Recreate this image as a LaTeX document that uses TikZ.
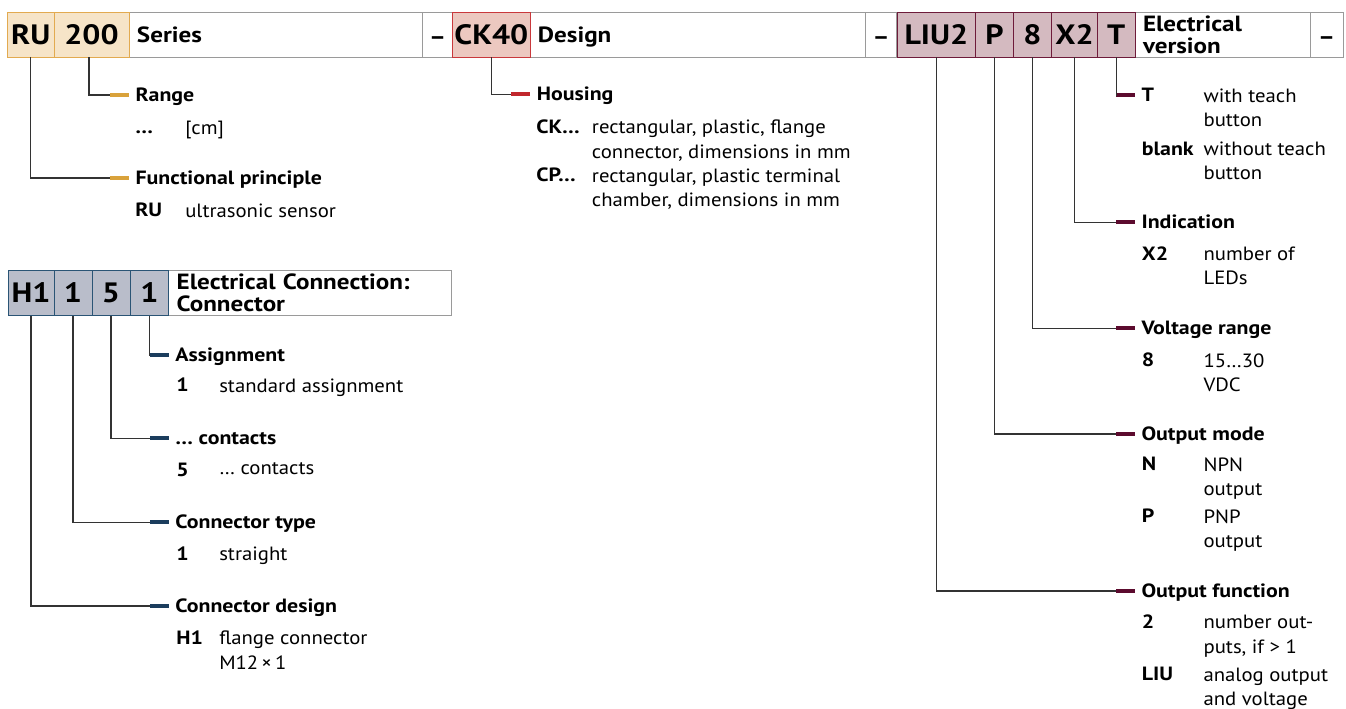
\documentclass[tikz,border=0pt]{standalone}
\usepackage{fontspec}
\setmainfont{PT Sans}[FakeStretch=1.08,BoldFeatures={FakeStretch=1.14}]
\usetikzlibrary{positioning}

\definecolor{rugold}{HTML}{D9A23B}
\definecolor{rufill}{HTML}{F6E4C8}
\definecolor{ruline}{HTML}{E2AA50}
\definecolor{ckred}{HTML}{C1272D}
\definecolor{ckfill}{HTML}{ECC8C0}
\definecolor{ckline}{HTML}{C9383C}
\definecolor{elmaroon}{HTML}{5C0B2E}
\definecolor{elfill}{HTML}{D4BAC0}
\definecolor{elline}{HTML}{6E1B3A}
\definecolor{cnnavy}{HTML}{1B3D5D}
\definecolor{cnfill}{HTML}{B9BDCA}
\definecolor{cnline}{HTML}{2A5475}
\definecolor{framegray}{HTML}{9A9A9A}
\definecolor{wiregray}{HTML}{333333}

\newcommand\lblfont{\fontsize{14.4}{18.4}\selectfont}

\begin{document}
\begin{tikzpicture}[x=0.75pt,y=-0.75pt,
	codebox/.style={draw,inner sep=0pt,minimum height=33.75pt,text height=15pt,text depth=0pt,font=\fontsize{21}{21}\selectfont\bfseries},
	namebox/.style={draw=framegray,fill=white,inner xsep=6pt,inner ysep=0pt,minimum height=33.75pt,align=left,font=\fontsize{16.5}{16.5}\selectfont\bfseries},
	dashbox/.style={draw=framegray,fill=white,inner sep=0pt,minimum height=33.75pt,text height=15pt,text depth=0pt,font=\fontsize{17}{17}\selectfont\bfseries},
	rubox/.style={codebox,fill=rufill,draw=ruline},
	ckbox/.style={codebox,fill=ckfill,draw=ckline},
	elbox/.style={codebox,fill=elfill,draw=elline},
	cnbox/.style={codebox,fill=cnfill,draw=cnline,minimum height=34.3pt},
	codebar/.style={fill=#1,inner sep=0pt,minimum width=14.25pt,minimum height=3pt},
	wire/.style={draw=wiregray,line width=0.8pt},
	head/.style={anchor=west,inner sep=0pt,text height=10pt,text depth=0pt,font=\lblfont\bfseries},
	key/.style={anchor=north west,inner sep=0pt,text height=10pt,text depth=0pt,font=\lblfont\bfseries},
	desc/.style={anchor=north west,inner sep=0pt,align=left,font=\lblfont}]
	\useasboundingbox (0,0) rectangle (1346,709);
	\clip (0,0) rectangle (1346,709);

	% type code bar
	\node[namebox,text width=208.3pt,text depth=0pt] (series) at (275.85,34.5) {Series};
	\node[dashbox,minimum width=22.5pt] (dasha) at (437.7,34.5) {--};
	\node[namebox,text width=239.8pt,text depth=0pt] (design) at (697.85,34.5) {Design};
	\node[dashbox,minimum width=23.25pt] (dashb) at (881.2,34.5) {--};
	\node[namebox,text width=119.25pt] (elver) at (1222.5,34.5) {Electrical\\version};
	\node[dashbox,minimum width=25pt] (dashc) at (1326.65,34.5) {--};
	\node[rubox,minimum width=35pt] (ru) at (30.65,34.5) {RU};
	\node[rubox,minimum width=56.25pt] (range) at (91.5,34.5) {200};
	\node[ckbox,minimum width=58pt] (ck) at (491.35,34.5) {CK40};
	\node[elbox,minimum width=59pt] (liu) at (936.35,34.5) {LIU2};
	\node[elbox,minimum width=28.2pt] (pnp) at (994.5,34.5) {P};
	\node[elbox,minimum width=28.8pt] (volt) at (1032.5,34.5) {8};
	\node[elbox,minimum width=34.2pt] (leds) at (1074.5,34.5) {X2};
	\node[elbox,minimum width=28.3pt] (teach) at (1116.15,34.5) {T};

	% connector code bar
	\node[namebox,text width=200.25pt] (contitle) at (310.2,292.85) {Electrical Connection:\\Connector};
	\node[cnbox,minimum width=34.5pt] (hone) at (31,292.85) {H1};
	\node[cnbox,minimum width=28.5pt] (ctype) at (73,292.85) {1};
	\node[cnbox,minimum width=28.5pt] (cpins) at (111,292.85) {5};
	\node[cnbox,minimum width=29pt] (cassign) at (149.35,292.85) {1};

	% series
	\node[codebar=rugold] (brange) at (119.5,95) {};
	\node[codebar=rugold] (bprinc) at (119.5,178) {};
	\draw[wire] ([xshift=-1.9pt]range.south) |- (brange.west);
	\draw[wire] (ru.south) |- (bprinc.west);
	\node[head] at ([xshift=4.5pt]brange.east) {Range};
	\node[key] at (135,120.3) {\ldots};
	\node[desc] at (185,120.3) {[cm]};
	\node[head] at ([xshift=4.5pt]bprinc.east) {Functional principle};
	\node[key] at (135,203.3) {RU};
	\node[desc] at (185,203.3) {ultrasonic sensor};

	% design
	\node[codebar=ckred] (bhous) at (520.85,94.3) {};
	\draw[wire] (ck.south) |- (bhous.west);
	\node[head] at ([xshift=4.5pt]bhous.east) {Housing};
	\node[key] at (536,120) {CK\ldots};
	\node[desc] at (591.7,120) {rectangular, plastic, flange\\connector, dimensions in mm};
	\node[key] at (536,168.3) {CP\ldots};
	\node[desc] at (591.7,168.3) {rectangular, plastic terminal\\chamber, dimensions in mm};

	% electrical version
	\node[codebar=elmaroon] (bteach) at (1125.5,95) {};
	\node[codebar=elmaroon] (bleds) at (1125.5,222.3) {};
	\node[codebar=elmaroon] (bvolt) at (1125.5,328.3) {};
	\node[codebar=elmaroon] (bpnp) at (1125.5,434) {};
	\node[codebar=elmaroon] (bliu) at (1125.5,591) {};
	\draw[wire] (teach.south) |- (bteach.west);
	\draw[wire] (leds.south) |- (bleds.west);
	\draw[wire] (volt.south) |- (bvolt.west);
	\draw[wire] (pnp.south) |- (bpnp.west);
	\draw[wire] (liu.south) |- (bliu.west);
	\node[head] at ([xshift=4.5pt]bteach.east) {T};
	\node[desc] at (1203.3,88.3) {with teach\\button};
	\node[key] at (1141.7,141.6) {blank};
	\node[desc] at (1203.3,141.6) {without teach\\button};
	\node[head] at ([xshift=4.5pt]bleds.east) {Indication};
	\node[key] at (1141.7,246.6) {X2};
	\node[desc] at (1203.3,246.6) {number of\\LEDs};
	\node[head] at ([xshift=4.5pt]bvolt.east) {Voltage range};
	\node[key] at (1141.7,353.3) {8};
	\node[desc] at (1203.3,353.3) {15\ldots30\\VDC};
	\node[head] at ([xshift=4.5pt]bpnp.east) {Output mode};
	\node[key] at (1141.7,457.3) {N};
	\node[desc] at (1203.3,457.3) {NPN\\output};
	\node[key] at (1141.7,509.3) {P};
	\node[desc] at (1203.3,509.3) {PNP\\output};
	\node[head] at ([xshift=4.5pt]bliu.east) {Output function};
	\node[key] at (1141.7,615) {2};
	\node[desc] at (1203.3,615) {number out-\\puts, if > 1};
	\node[key] at (1141.7,667.3) {LIU};
	\node[desc] at (1203.3,667.3) {analog output\\and voltage};

	% electrical connection
	\node[codebar=cnnavy] (bassign) at (159.35,355) {};
	\node[codebar=cnnavy] (bpins) at (159.35,438.3) {};
	\node[codebar=cnnavy] (btype) at (159.35,522.3) {};
	\node[codebar=cnnavy] (bdesign) at (159.35,606) {};
	\draw[wire] (cassign.south) |- (bassign.west);
	\draw[wire] (cpins.south) |- (bpins.west);
	\draw[wire] (ctype.south) |- (btype.west);
	\draw[wire] (hone.south) |- (bdesign.west);
	\node[head] at ([xshift=4.5pt]bassign.east) {Assignment};
	\node[key] at (176,378.3) {1};
	\node[desc] at (219,378.3) {standard assignment};
	\node[head] at ([xshift=4.5pt]bpins.east) {\ldots{} contacts};
	\node[key] at (176,462.6) {5};
	\node[desc] at (219,462.6) {\ldots{} contacts};
	\node[head] at ([xshift=4.5pt]btype.east) {Connector type};
	\node[key] at (176,546.6) {1};
	\node[desc] at (219,546.6) {straight};
	\node[head] at ([xshift=4.5pt]bdesign.east) {Connector design};
	\node[key] at (176,630.6) {H1};
	\node[desc] at (219,630.6) {flange connector\\M12\,×\,1};
\end{tikzpicture}
\end{document}
